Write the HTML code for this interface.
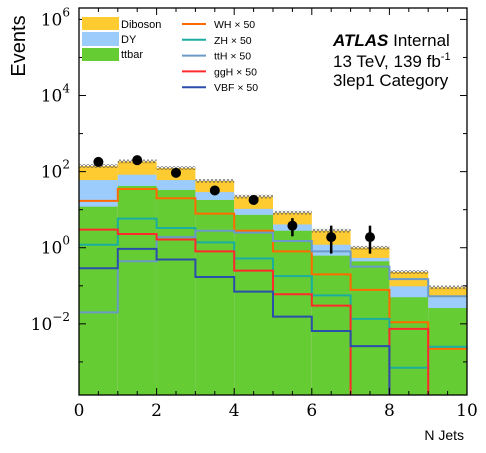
<!DOCTYPE html>
<html><head><meta charset="utf-8"><style>
html,body{margin:0;padding:0;background:#fff;}
svg{display:block;}
text{font-family:"Liberation Sans",sans-serif;}
.tk{font-family:"DejaVu Serif","Liberation Serif",serif;font-size:17px;}
</style></head><body>
<svg id="chart" width="486" height="453" viewBox="0 0 486 453" xmlns="http://www.w3.org/2000/svg">
<defs>
<pattern id="hatch" width="4" height="4" patternUnits="userSpaceOnUse">
<path d="M0,0 L4,4 M4,0 L0,4" stroke="#555" stroke-width="0.6"/>
</pattern>
<clipPath id="plotclip"><rect x="79" y="8" width="388" height="387"/></clipPath>
</defs>
<g id="bars" clip-path="url(#plotclip)"></g>
<g id="lines" clip-path="url(#plotclip)"></g>
<g id="data"></g>
<g id="axes"></g>
<text x="25" y="46" font-size="20" transform="rotate(-90 25 46)" text-anchor="middle">Events</text>
<text x="464" y="440" font-size="14" text-anchor="end">N Jets</text>
<g>
<rect x="82" y="17" width="37" height="13" fill="#fecb31"/>
<text x="121" y="28" font-size="11">Diboson</text>
<rect x="82" y="32" width="37" height="14" fill="#9cccfc"/>
<text x="121" y="43" font-size="11">DY</text>
<rect x="82" y="48" width="37" height="13" fill="#66cc33"/>
<text x="121" y="58" font-size="11">ttbar</text>
</g>
<g id="legend2"></g>
<g>
<text x="333" y="46" font-size="17"><tspan font-weight="bold" font-style="italic">ATLAS</tspan> Internal</text>
<text x="333" y="67" font-size="17">13 TeV, 139 fb<tspan font-size="11" dy="-7">-1</tspan></text>
<text x="333" y="86" font-size="17">3lep1 Category</text>
</g>
</svg>
<script>
const categories = [0,1,2,3,4,5,6,7,8,9];
const ttbar   = [12, 42, 33, 18, 7.3, 2.8, 0.62, 0.44, 0.05, 0.026];
const dy      = [48, 41, 27, 11, 3.2, 1.3, 0.58, 0.10, 0.047, 0.024];
const diboson = [80, 103, 64, 28, 11.5, 4.2, 1.6, 0.46, 0.133, 0.041];
const dataVals = [180, 200, 93, 32, 18, 3.8, 1.9, 1.9, 0, 0];
const dataErrLo = [13, 14, 10, 6, 4, 1.8, 1.2, 1.2, 0, 0];
const dataErrHi = [13, 14, 10, 6, 4, 2.2, 1.9, 1.9, 0, 0];
const sigNames = ["WH", "ZH", "ttH", "ggH", "VBF"];
const sigColors = ["#ff6a00", "#1aada0", "#6a9ac8", "#ff2a2a", "#2a4faa"];
const sigWH  = [17, 35, 20, 7.9, 2.8, 0.8, 0.2, 0.078, 0.011, 0.0022];
const sigZH  = [1.2, 5.8, 3.3, 1.38, 0.52, 0.18, 0.056, 0.0135, 0.0007, 0.0025];
const sigTTH = [0.02, 0.44, 1.9, 2.8, 2.5, 1.5, 0.8, 0.32, 0.15, 0.053];
const sigGGH = [3, 2.3, 1.65, 0.8, 0.25, 0.06, 0.03, 0, 0.0074, 0];
const sigVBF = [0.29, 0.93, 0.49, 0.17, 0.07, 0.0155, 0.0065, 0.0026, 0, 0];
const xTicks = [0,2,4,6,8,10];
const yTickExp = [-2,0,2,4,6];

const X0=79, X1=467, Y0=395, Y1=8;
const LMIN=-3.87, LMAX=6.3;
const NS="http://www.w3.org/2000/svg";
function xs(v){return X0+(v-0)/(10-0)*(X1-X0);}
function ys(v){ if(v<=0) return Y0+20; return Y0-(Math.log10(v)-LMIN)/(LMAX-LMIN)*(Y0-Y1);}
function mk(tag,attrs,parent){const e=document.createElementNS(NS,tag);for(const k in attrs)e.setAttribute(k,attrs[k]);parent.appendChild(e);return e;}

const gb=document.getElementById('bars');
categories.forEach((c,i)=>{
  const t=ttbar[i], d=t+dy[i], b=d+diboson[i];
  const layers=[[b,'#fecb31','diboson'],[d,'#9cccfc','dy'],[t,'#66cc33','ttbar']];
  layers.forEach(([v,col,nm])=>{
    const r=mk('rect',{x:xs(c),y:ys(v),width:xs(c+1)-xs(c),height:Y0-ys(v)+1,fill:col},gb);
    
    
  });
  const h=mk('rect',{x:xs(c),y:ys(b*1.12),width:xs(c+1)-xs(c),height:ys(b/1.12)-ys(b*1.12),fill:'url(#hatch)'},gb);
  
  
});

const gl=document.getElementById('lines');
const sigs=[sigWH,sigZH,sigTTH,sigGGH,sigVBF];
sigs.forEach((arr,s)=>{
  let d='';
  categories.forEach((c,i)=>{
    const y=ys(arr[i]);
    d+=(i===0?'M':'L')+xs(c)+','+y+' L'+xs(c+1)+','+y+' ';
  });
  const p=mk('path',{d:d,fill:'none',stroke:sigColors[s],'stroke-width':2},gl);
  
  
});

const gd=document.getElementById('data');
categories.forEach((c,i)=>{
  if(dataVals[i]<=0) return;
  const cx=xs(c+0.5);
  const e=mk('line',{x1:cx,x2:cx,y1:ys(dataVals[i]+dataErrHi[i]),y2:ys(Math.max(dataVals[i]-dataErrLo[i],1e-4)),stroke:'#000','stroke-width':2.5},gd);
  
  
  const p=mk('circle',{cx:cx,cy:ys(dataVals[i]),r:5,fill:'#000'},gd);
  
  
});

const ga=document.getElementById('axes');
const fr=mk('rect',{x:X0,y:Y1,width:X1-X0,height:Y0-Y1,fill:'none',stroke:'#000','stroke-width':1.3},ga);


for(let v=0;v<=10;v+=0.5){
  const L=(v%2===0)?7:4;
  mk('line',{x1:xs(v),x2:xs(v),y1:Y0,y2:Y0-L,stroke:'#000','stroke-width':1},ga);
  mk('line',{x1:xs(v),x2:xs(v),y1:Y1,y2:Y1+L,stroke:'#000','stroke-width':1},ga);
}
xTicks.forEach(v=>{
  const t=mk('text',{x:xs(v),y:416,'text-anchor':'middle','class':'tk'},ga);
  t.textContent=v;
  
  
});
for(let e=-4;e<=6;e++){
  const y=ys(Math.pow(10,e));
  if(y<Y1||y>Y0) continue;
  const L=(e%2===0)?7:4;
  mk('line',{x1:X0,x2:X0+L,y1:y,y2:y,stroke:'#000','stroke-width':1},ga);
  mk('line',{x1:X1,x2:X1-L,y1:y,y2:y,stroke:'#000','stroke-width':1},ga);
}
yTickExp.forEach(e=>{
  const y=ys(Math.pow(10,e));
  const t=mk('text',{x:70,y:y+6,'text-anchor':'end','class':'tk'},ga);
  t.innerHTML='10<tspan font-size="12" dy="-9">'+(e<0?'\u2212'+(-e):e)+'</tspan>';
  
  
});

const lg=document.getElementById('legend2');
sigNames.forEach((n,s)=>{
  const y=24+s*15.8;
  const l=mk('line',{x1:182,x2:206,y1:y,y2:y,stroke:sigColors[s],'stroke-width':2},lg);
  
  
  const t=mk('text',{x:214,y:y+4,'font-size':10.5},lg);
  t.textContent=n+' \u00d7 50';
  
  
});
</script>
</body></html>
